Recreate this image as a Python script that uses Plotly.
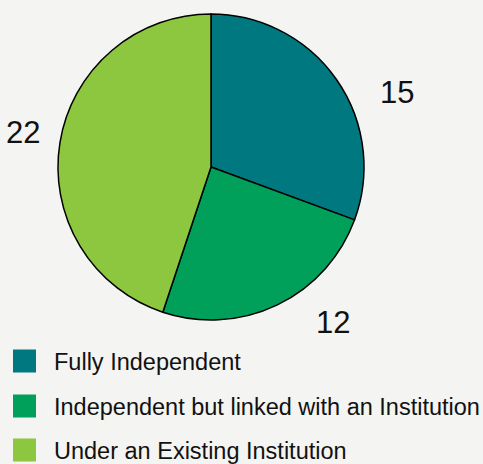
import plotly.graph_objects as go

# Data
categories = ["Fully Independent", "Independent but linked with an Institution", "Under an Existing Institution"]
counts = [15, 12, 22]
colors = ["#00787f", "#00a05b", "#8dc63f"]

# Layout positions (pixels) for the outside count labels
label_pos = [(397, 92), (333, 322), (23, 132)]

W, H = 483, 464
BG = "#f4f4f2"
FONT = "Liberation Sans, Arial, Helvetica, sans-serif"

cx, cy, r = 211, 167, 153

fig = go.Figure(
    go.Pie(
        labels=categories,
        values=counts,
        marker=dict(colors=colors, line=dict(color="#000000", width=1.5)),
        sort=False,
        direction="clockwise",
        rotation=0,
        textinfo="none",
        hoverinfo="label+value",
        showlegend=False,
        domain=dict(x=[(cx - r) / W, (cx + r) / W], y=[1 - (cy + r) / H, 1 - (cy - r) / H]),
    )
)

annotations = []
shapes = []

# Count labels around the pie
for v, (px, py) in zip(counts, label_pos):
    annotations.append(dict(
        x=px / W, y=1 - py / H, xref="paper", yref="paper",
        text=str(v), showarrow=False, xanchor="center", yanchor="middle",
        font=dict(size=31, color="#111111", family=FONT),
    ))

# Legend: square swatches with labels below the pie
legend_y = [361, 406, 450]
for name, col, ly in zip(categories, colors, legend_y):
    shapes.append(dict(
        type="rect", xref="paper", yref="paper",
        x0=13 / W, x1=36 / W, y0=1 - (ly + 11.5) / H, y1=1 - (ly - 11.5) / H,
        fillcolor=col, line=dict(width=0),
    ))
    annotations.append(dict(
        x=52 / W, y=1 - (ly + 1) / H, xref="paper", yref="paper",
        text=name, showarrow=False, xanchor="left", yanchor="middle",
        font=dict(size=23.5, color="#111111", family=FONT),
    ))

fig.update_layout(
    width=W, height=H,
    margin=dict(l=0, r=0, t=0, b=0),
    paper_bgcolor=BG, plot_bgcolor=BG,
    annotations=annotations, shapes=shapes,
    showlegend=False,
)

fig.write_html("out.html")
